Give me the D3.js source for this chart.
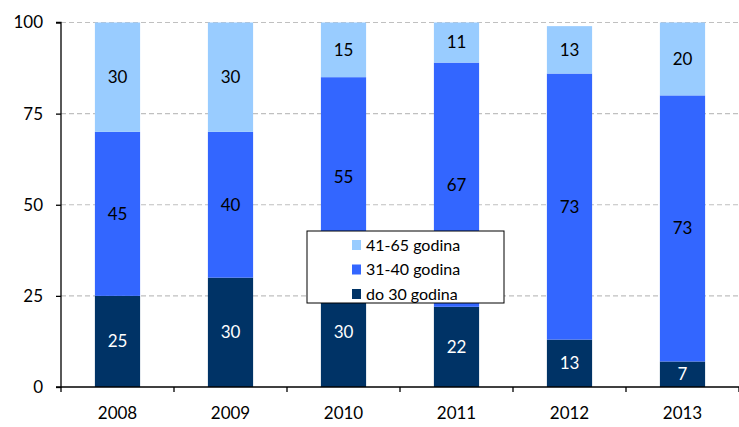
<!DOCTYPE html>
<html><head><meta charset="utf-8">
<script src="https://cdn.jsdelivr.net/npm/d3@7"></script>
<style>body{margin:0;background:#fff}svg{display:block;font-family:Lato,"Open Sans",sans-serif}</style>
</head><body><svg id="c" width="739" height="427"></svg>
<script>
const years = ["2008","2009","2010","2011","2012","2013"];
const do30 = [25,30,30,22,13,7];
const s3140 = [45,40,55,67,73,73];
const s4165 = [30,30,15,11,13,20];
const seriesNames = ["do 30 godina","31-40 godina","41-65 godina"];
const colors = ["#003366","#3366FF","#99CCFF"];
const labelColors = ["#ffffff","#000000","#000000"];
const yTicks = [0,25,50,75,100];

const svg = d3.select("#c");
const x = d3.scaleBand().domain(years).range([61,739]).paddingInner(0.6).paddingOuter(0.3);
const y = d3.scaleLinear().domain([0,100]).range([387,22.5]);

// grid
svg.append("g").selectAll("line").data(yTicks.filter(d=>d>0)).join("line")
  .attr("x1",61).attr("x2",739).attr("y1",d=>y(d)).attr("y2",d=>y(d))
  .attr("stroke","#c0c0c0").attr("stroke-width",1.2).attr("stroke-dasharray","5,3");

const table = years.map((yr,i)=>({year:yr, a:do30[i], b:s3140[i], c:s4165[i]}));
const stack = d3.stack().keys(["a","b","c"])(table);

const g = svg.append("g");
stack.forEach((layer,k)=>{
  g.append("g").selectAll("rect").data(layer).join("rect")
    .attr("x",d=>x(d.data.year)).attr("width",x.bandwidth())
    .attr("y",d=>y(d[1])).attr("height",d=>y(d[0])-y(d[1]))
    .attr("fill",colors[k]);
  g.append("g").selectAll("text").data(layer).join("text")
    .attr("x",d=>x(d.data.year)+x.bandwidth()/2)
    .attr("y",d=>(y(d[0])+y(d[1]))/2)
    .attr("dy","0.35em").attr("text-anchor","middle")
    .attr("font-size",17).attr("fill",labelColors[k])
    .text(d=>d[1]-d[0]);
});

// y axis
const ya = svg.append("g").attr("transform","translate(61,0)")
  .call(d3.axisLeft(y).tickValues(yTicks).tickSize(5).tickPadding(13));
ya.select(".domain").attr("stroke","#000").attr("stroke-width",1.3).attr("d","M-5,22.5H0V387H-5");
ya.selectAll("text").attr("font-size",17).attr("font-family","Lato,'Open Sans',sans-serif").attr("fill","#000");
ya.selectAll("line").attr("stroke","#000").attr("stroke-width",1.3);

// x axis
const xBounds = d3.range(years.length+1).map(i=>61+i*(678/6));
const xa = svg.append("g");
xa.append("line").attr("x1",61).attr("x2",739).attr("y1",387).attr("y2",387).attr("stroke","#000").attr("stroke-width",1.3);
xa.selectAll("line.t").data(xBounds).join("line").attr("class","t")
  .attr("x1",d=>d).attr("x2",d=>d).attr("y1",387).attr("y2",392).attr("stroke","#000").attr("stroke-width",1.3);
xa.selectAll("text").data(years).join("text")
  .attr("x",d=>x(d)+x.bandwidth()/2).attr("y",419)
  .attr("text-anchor","middle").attr("font-size",17).text(d=>d);

// legend
const lg = svg.append("g").attr("transform","translate(307,231)");
lg.append("rect").attr("width",197).attr("height",72).attr("fill","#fff").attr("stroke","#000").attr("stroke-width",1);
const order = [2,1,0];
order.forEach((k,i)=>{
  const yy = 14 + i*24.5;
  lg.append("rect").attr("x",45).attr("y",yy-5).attr("width",9).attr("height",10).attr("fill",colors[k]);
  lg.append("text").attr("x",59).attr("y",yy).attr("dy","0.35em").attr("font-size",16).text(seriesNames[k]);
});
</script></body></html>
